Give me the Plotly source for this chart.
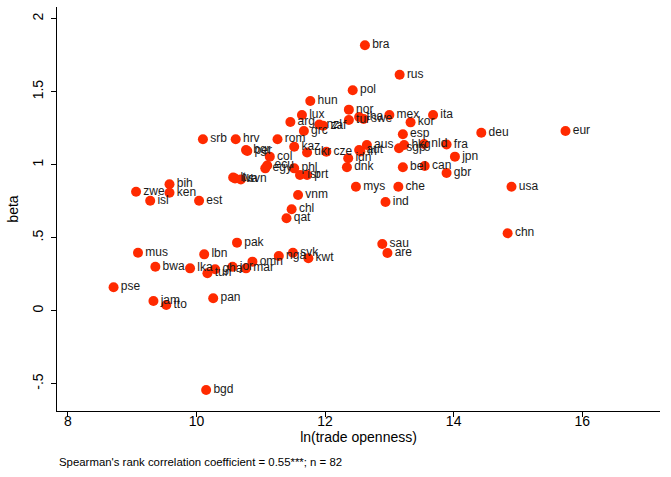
import plotly.graph_objects as go

countries = ["bra","rus","pol","hun","nor","lux","arg","nzl","zaf","grc",
             "tur","tha","swe","mex","kor","ita","esp","deu","eur","hkg",
             "sgp","nld","fra","jpn","bel","can","gbr","che","usa","mys",
             "ind","chn","sau","are","aus","aut","irl","idn","dnk","cze",
             "ukr","kaz","rom","col","hrv","srb","bgr","per","egy","ecu",
             "phl","isr","prt","ltu","lva","svn","vnm","chl","qat","zwe",
             "bih","ken","isl","est","mus","pak","lbn","bwa","lka","gha",
             "tun","jor","mar","omn","nga","svk","kwt","pse","jam","tto",
             "pan","bgd"]

trade_openness = [12.62,13.16,12.43,11.77,12.37,11.64,11.46,11.91,11.97,11.67,
                  12.37,12.53,12.60,13.00,13.33,13.68,13.21,14.43,15.74,13.23,
                  13.15,13.54,13.89,14.02,13.21,13.55,13.89,13.14,14.90,12.48,
                  12.94,14.84,12.89,12.97,12.65,12.53,12.55,12.36,12.34,12.02,
                  11.72,11.52,11.26,11.14,10.61,10.10,10.77,10.79,11.07,11.10,
                  11.52,11.61,11.72,10.57,10.60,10.69,11.58,11.48,11.40,9.06,
                  9.58,9.58,9.28,10.04,9.09,10.63,10.12,9.36,9.90,10.29,
                  10.17,10.56,10.77,10.87,11.28,11.50,11.74,8.71,9.33,9.53,
                  10.26,10.15]

beta = [1.818,1.616,1.510,1.436,1.377,1.340,1.292,1.275,1.267,1.231,
        1.306,1.327,1.313,1.340,1.290,1.340,1.208,1.219,1.231,1.135,
        1.112,1.142,1.138,1.055,0.982,0.991,0.943,0.849,0.849,0.849,
        0.745,0.530,0.457,0.395,1.135,1.101,1.090,1.044,0.982,1.089,
        1.084,1.123,1.174,1.055,1.174,1.174,1.101,1.094,0.975,0.995,
        0.975,0.929,0.929,0.912,0.905,0.899,0.792,0.695,0.633,0.815,
        0.866,0.808,0.753,0.753,0.397,0.466,0.386,0.301,0.290,0.284,
        0.256,0.301,0.290,0.336,0.375,0.397,0.359,0.160,0.066,0.039,
        0.085,-0.543]

x_ticks = [8, 10, 12, 14, 16]
y_ticks = [-0.5, 0, 0.5, 1, 1.5, 2]
y_ticktext = ["-.5", "0", ".5", "1", "1.5", "2"]

FONT = "Liberation Sans, Arial, Helvetica, sans-serif"

fig = go.Figure()
fig.add_trace(go.Scatter(
    x=trade_openness, y=beta, mode="markers+text", text=countries,
    textposition="middle right",
    textfont=dict(family=FONT, size=12, color="#1a1a1a"),
    marker=dict(size=10, color="#ff2a00", line=dict(width=0)),
    cliponaxis=False, showlegend=False,
))

fig.update_layout(
    width=671, height=477,
    margin=dict(l=57, r=11, t=7, b=66),
    paper_bgcolor="white", plot_bgcolor="white",
    font=dict(family=FONT, size=13, color="black"),
    xaxis=dict(range=[7.83, 17.21], tickvals=x_ticks, showgrid=False, zeroline=False,
               showline=True, linecolor="black", linewidth=1,
               ticks="outside", ticklen=5, tickcolor="black",
               tickfont=dict(size=14), ticklabelstandoff=-8,
               title=dict(text="ln(trade openness)", font=dict(size=14), standoff=4)),
    yaxis=dict(range=[-0.687, 2.08], tickvals=y_ticks, ticktext=y_ticktext,
               tickangle=-90, showgrid=False, zeroline=False,
               showline=True, linecolor="black", linewidth=1,
               ticks="outside", ticklen=5, tickcolor="black",
               tickfont=dict(size=14), ticklabelstandoff=2,
               title=dict(text="beta", font=dict(size=14), standoff=8)),
    annotations=[dict(
        text="Spearman's rank correlation coefficient = 0.55***; n = 82",
        xref="paper", yref="paper", x=0.0, y=-0.126,
        xanchor="left", yanchor="middle", showarrow=False,
        font=dict(family=FONT, size=11.4, color="black"))],
)

fig.write_html("out.html")
